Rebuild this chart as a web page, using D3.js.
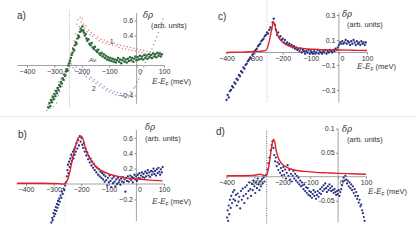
<!DOCTYPE html>
<html>
<head>
<meta charset="utf-8">
<script src="https://cdn.jsdelivr.net/npm/d3@7"></script>
<style>
  body { margin: 0; background: #fff; }
  svg { display: block; }
  text { font-family: "Liberation Sans", Arial, sans-serif; fill: #333; }
</style>
</head>
<body>
<svg width="415" height="248"></svg>
<script>
// ---- data (E - E_F in meV, delta rho in arb. units)

// panel a
const aAvg = [[-322,-0.56],[-318,-0.50],[-315,-0.54],[-312,-0.46],[-309,-0.49],[-306,-0.42],[-303,-0.45],[-300,-0.38],[-297,-0.41],[-294,-0.34],[-291,-0.37],[-288,-0.30],[-285,-0.33],[-282,-0.26],[-279,-0.28],[-276,-0.22],[-273,-0.24],[-270,-0.17],[-267,-0.19],[-264,-0.12],[-261,-0.14],[-258,-0.08],[-255,-0.05],[-252,-0.07],[-249,0.0],[-246,0.03],[-243,0.06],[-240,0.10],[-237,0.14],[-234,0.17],[-231,0.22],[-228,0.20],[-225,0.27],[-222,0.31],[-219,0.29],[-216,0.36],[-213,0.40],[-210,0.38],[-207,0.45],[-204,0.49],[-201,0.46],[-198,0.52],[-195,0.47],[-192,0.44],[-189,0.40],[-186,0.42],[-183,0.36],[-180,0.33],[-176,0.35],[-172,0.29],[-168,0.27],[-164,0.30],[-160,0.24],[-156,0.22],[-152,0.25],[-148,0.20],[-144,0.18],[-140,0.21],[-136,0.16],[-132,0.14],[-128,0.17],[-124,0.12],[-120,0.15],[-116,0.10],[-112,0.13],[-108,0.08],[-104,0.11],[-100,0.07],[-96,0.10],[-92,0.06],[-88,0.09],[-84,0.05],[-80,0.08],[-76,0.04],[-72,0.07],[-68,0.10],[-64,0.05],[-60,0.08],[-56,0.03],[-52,0.07],[-48,0.10],[-44,0.05],[-40,0.08],[-36,0.04],[-32,0.09],[-28,0.06],[-24,0.11],[-20,0.07],[-16,0.10],[-12,0.05],[-8,0.09],[-4,0.12],[0,0.07],[4,0.11],[8,0.08],[12,0.13],[16,0.09],[20,0.12],[24,0.08],[28,0.14],[32,0.10],[36,0.13],[40,0.09],[44,0.15],[48,0.11],[52,0.14],[56,0.10],[60,0.16],[64,0.12],[68,0.15],[72,0.11],[76,0.17],[80,0.13],[84,0.16],[88,0.12],[92,0.15]];
const aRun1 = [[-325,-0.55],[-316,-0.47],[-308,-0.40],[-300,-0.33],[-292,-0.30],[-284,-0.22],[-276,-0.18],[-268,-0.12],[-260,-0.05],[-252,0.0],[-246,0.08],[-240,0.16],[-234,0.24],[-228,0.33],[-222,0.42],[-218,0.55],[-214,0.61],[-210,0.52],[-206,0.64],[-202,0.58],[-198,0.62],[-194,0.55],[-190,0.50],[-185,0.53],[-180,0.45],[-175,0.47],[-170,0.41],[-165,0.44],[-160,0.39],[-154,0.41],[-148,0.36],[-142,0.38],[-136,0.33],[-130,0.35],[-124,0.31],[-118,0.34],[-112,0.30],[-106,0.32],[-100,0.28],[-94,0.31],[-88,0.27],[-82,0.30],[-76,0.26],[-70,0.28],[-64,0.24],[-58,0.27],[-52,0.23],[-46,0.26],[-40,0.22],[-34,0.25],[-28,0.21],[-22,0.24],[-16,0.20],[-10,0.23],[-4,0.19],[2,0.22],[8,0.18],[14,0.21],[20,0.17],[26,0.20],[32,0.16],[38,0.19],[44,0.15],[50,0.18],[56,0.14],[62,0.17],[68,0.13],[74,0.16],[80,0.15],[86,0.18],[92,0.14]];
const aRun2 = [[-328,-0.60],[-322,-0.52],[-316,-0.57],[-310,-0.48],[-304,-0.55],[-298,-0.45],[-292,-0.50],[-286,-0.40],[-280,-0.35],[-272,-0.28],[-264,-0.20],[-256,-0.12],[-250,-0.05],[-244,-0.02],[-238,0.02],[-232,-0.03],[-226,-0.06],[-220,-0.02],[-214,-0.08],[-208,-0.05],[-202,-0.10],[-196,-0.07],[-190,-0.12],[-184,-0.15],[-178,-0.12],[-172,-0.18],[-166,-0.16],[-160,-0.21],[-154,-0.19],[-148,-0.24],[-142,-0.22],[-136,-0.27],[-130,-0.25],[-124,-0.30],[-118,-0.28],[-112,-0.33],[-106,-0.31],[-100,-0.35],[-94,-0.33],[-88,-0.37],[-82,-0.35],[-76,-0.39],[-70,-0.36],[-64,-0.40],[-58,-0.37],[-52,-0.41],[-46,-0.38],[-40,-0.42],[-34,-0.39],[-28,-0.40],[-22,-0.35],[-16,-0.36],[-10,-0.30],[-4,-0.28],[2,-0.22],[8,-0.18],[14,-0.12],[20,-0.07],[26,-0.02],[32,0.04],[38,0.09],[44,0.12],[50,0.18],[56,0.22],[62,0.28],[68,0.33],[74,0.38],[80,0.44],[86,0.50],[92,0.57],[96,0.62]];

// panel b
const bData = [[-308,-0.50],[-305,-0.44],[-303,-0.47],[-300,-0.38],[-298,-0.42],[-296,-0.34],[-294,-0.39],[-292,-0.30],[-290,-0.35],[-288,-0.26],[-286,-0.31],[-284,-0.22],[-282,-0.27],[-280,-0.19],[-278,-0.23],[-275,-0.15],[-272,-0.18],[-270,-0.10],[-267,-0.13],[-264,-0.06],[-261,-0.08],[-258,-0.02],[-255,0.02],[-252,0.10],[-250,0.18],[-248,0.25],[-246,0.14],[-244,0.29],[-242,0.22],[-240,0.33],[-238,0.26],[-236,0.38],[-234,0.30],[-232,0.35],[-230,0.42],[-228,0.33],[-226,0.45],[-224,0.38],[-222,0.48],[-220,0.42],[-217,0.53],[-214,0.46],[-211,0.57],[-208,0.50],[-205,0.62],[-202,0.55],[-199,0.60],[-196,0.51],[-193,0.47],[-190,0.53],[-187,0.42],[-184,0.46],[-181,0.37],[-178,0.41],[-175,0.32],[-172,0.36],[-169,0.28],[-166,0.33],[-163,0.24],[-160,0.29],[-157,0.21],[-154,0.26],[-151,0.18],[-148,0.23],[-145,0.15],[-142,0.21],[-139,0.12],[-136,0.19],[-133,0.10],[-130,0.16],[-127,0.08],[-124,0.14],[-121,0.06],[-118,0.12],[-115,0.03],[-112,0.10],[-109,0.05],[-106,-0.02],[-103,0.08],[-100,0.02],[-97,0.11],[-94,0.04],[-91,-0.04],[-88,0.07],[-85,0.01],[-82,0.09],[-79,0.03],[-76,-0.03],[-73,0.06],[-70,0.0],[-67,0.08],[-64,0.02],[-61,0.05],[-58,-0.01],[-55,0.07],[-52,0.03],[-49,0.09],[-46,0.02],[-43,0.06],[-40,-0.10],[-37,0.08],[-34,0.04],[-31,0.10],[-28,0.03],[-25,0.07],[-22,0.11],[-19,0.05],[-16,0.09],[-13,0.02],[-10,0.08],[-7,0.12],[-4,0.06],[-1,0.10],[2,0.04],[5,0.12],[8,0.08],[11,0.14],[14,0.07],[17,0.11],[20,0.15],[23,0.09],[26,0.13],[29,0.08],[32,0.16],[35,0.10],[38,0.14],[41,0.18],[44,0.11],[47,0.15],[50,0.09],[53,0.17],[56,0.12],[59,0.16],[62,0.20],[65,0.13],[68,0.17],[71,0.11],[74,0.19],[77,0.14],[80,0.21],[83,0.16],[86,0.12],[89,0.19],[92,0.15],[95,0.22]];
const bFit = [[-432,0.01],[-350,0.01],[-280,0.005],[-262,0.0],[-250,0.05],[-240,0.18],[-230,0.35],[-220,0.5],[-210,0.6],[-200,0.62],[-192,0.57],[-185,0.47],[-175,0.38],[-165,0.31],[-150,0.24],[-130,0.18],[-100,0.13],[-70,0.1],[-40,0.08],[0,0.065],[50,0.05],[95,0.04]];

// panel c
const cData = [[-400,-0.38],[-396,-0.34],[-392,-0.36],[-388,-0.31],[-384,-0.30],[-380,-0.27],[-376,-0.28],[-372,-0.24],[-368,-0.25],[-364,-0.21],[-360,-0.22],[-356,-0.18],[-352,-0.19],[-348,-0.15],[-344,-0.16],[-340,-0.12],[-336,-0.13],[-332,-0.10],[-328,-0.09],[-324,-0.07],[-320,-0.06],[-316,-0.04],[-312,-0.05],[-308,-0.02],[-304,-0.01],[-300,0.01],[-296,0.02],[-292,0.03],[-288,0.05],[-284,0.06],[-280,0.07],[-276,0.09],[-272,0.10],[-268,0.11],[-264,0.13],[-260,0.14],[-256,0.16],[-252,0.15],[-248,0.18],[-244,0.20],[-240,0.19],[-236,0.24],[-232,0.27],[-228,0.22],[-224,0.18],[-220,0.14],[-216,0.16],[-212,0.12],[-208,0.13],[-204,0.10],[-200,0.11],[-196,0.08],[-192,0.10],[-188,0.07],[-184,0.08],[-180,0.06],[-176,0.07],[-172,0.05],[-168,0.06],[-164,0.04],[-160,0.05],[-156,0.03],[-152,0.04],[-148,0.02],[-144,0.03],[-140,0.01],[-136,0.03],[-132,0.0],[-128,0.02],[-124,0.01],[-120,-0.01],[-116,0.01],[-112,0.0],[-108,0.02],[-104,-0.01],[-100,0.01],[-96,0.0],[-92,-0.01],[-88,0.01],[-84,-0.01],[-80,0.0],[-76,0.02],[-72,-0.01],[-68,0.01],[-64,0.0],[-60,-0.01],[-56,0.01],[-52,0.0],[-48,0.02],[-44,-0.01],[-40,0.01],[-36,0.0],[-32,0.02],[-28,0.01],[-24,0.0],[-20,0.02],[-16,0.01],[-12,0.03],[-8,0.02],[-4,0.04],[0,0.06],[4,0.08],[8,0.07],[12,0.09],[16,0.07],[20,0.08],[24,0.10],[28,0.07],[32,0.09],[36,0.08],[40,0.06],[44,0.09],[48,0.07],[52,0.10],[56,0.08],[60,0.06],[64,0.09],[68,0.07],[72,0.08],[76,0.06],[80,0.09],[84,0.07],[88,0.08],[92,0.06],[96,0.08]];
const cFit = [[-400,0.0],[-350,0.003],[-300,0.008],[-270,0.012],[-262,0.015],[-256,0.03],[-250,0.07],[-244,0.13],[-238,0.20],[-233,0.245],[-229,0.23],[-225,0.19],[-220,0.15],[-214,0.12],[-206,0.095],[-196,0.075],[-185,0.06],[-170,0.048],[-150,0.038],[-120,0.03],[-80,0.025],[-40,0.022],[0,0.02],[50,0.018],[100,0.016]];

// panel d
const dData = [[-398,-0.085],[-396,-0.070],[-394,-0.092],[-392,-0.060],[-390,-0.078],[-388,-0.048],[-385,-0.065],[-383,-0.040],[-380,-0.055],[-377,-0.032],[-375,-0.047],[-372,-0.028],[-369,-0.050],[-366,-0.038],[-363,-0.060],[-360,-0.035],[-357,-0.052],[-354,-0.042],[-351,-0.066],[-348,-0.030],[-345,-0.048],[-342,-0.025],[-339,-0.040],[-336,-0.055],[-333,-0.022],[-330,-0.036],[-327,-0.018],[-324,-0.045],[-321,-0.030],[-318,-0.012],[-315,-0.026],[-312,-0.040],[-309,-0.015],[-306,-0.028],[-303,-0.008],[-300,-0.020],[-297,-0.034],[-294,-0.012],[-291,-0.024],[-288,-0.004],[-285,-0.016],[-282,-0.028],[-279,-0.010],[-276,-0.020],[-273,-0.005],[-270,-0.014],[-267,-0.002],[-264,-0.010],[-258,0.004],[-254,0.015],[-250,0.028],[-246,0.040],[-242,0.055],[-238,0.066],[-235,0.074],[-232,0.060],[-229,0.045],[-226,0.032],[-223,0.040],[-220,0.022],[-217,0.030],[-214,0.014],[-211,0.026],[-208,0.008],[-205,0.018],[-202,0.003],[-199,0.012],[-196,0.020],[-193,0.004],[-190,0.015],[-187,-0.004],[-184,0.008],[-181,0.024],[-178,0.002],[-175,0.014],[-172,-0.006],[-169,0.006],[-166,-0.010],[-163,0.002],[-160,0.012],[-157,-0.004],[-154,0.006],[-151,-0.008],[-148,0.002],[-145,-0.012],[-142,-0.002],[-139,-0.016],[-136,-0.008],[-133,-0.020],[-130,-0.012],[-127,-0.018],[-124,-0.026],[-121,-0.016],[-118,-0.030],[-115,-0.022],[-112,-0.034],[-109,-0.024],[-106,-0.038],[-103,-0.030],[-100,-0.040],[-97,-0.032],[-94,-0.044],[-91,-0.036],[-88,-0.028],[-85,-0.040],[-82,-0.032],[-79,-0.046],[-76,-0.038],[-73,-0.030],[-70,-0.042],[-67,-0.034],[-64,-0.026],[-61,-0.036],[-58,-0.022],[-55,-0.030],[-52,-0.018],[-49,-0.026],[-46,-0.014],[-43,-0.024],[-40,-0.032],[-37,-0.020],[-34,-0.028],[-31,-0.016],[-28,-0.024],[-25,-0.030],[-22,-0.020],[-19,-0.028],[-16,-0.034],[-13,-0.026],[-10,-0.032],[-7,-0.038],[-4,-0.030],[-1,-0.036],[2,-0.028],[5,-0.040],[8,-0.032],[11,-0.026],[14,-0.018],[17,-0.010],[20,-0.002],[23,-0.008],[26,0.002],[29,-0.006],[32,-0.014],[35,-0.008],[38,-0.020],[41,-0.012],[44,-0.024],[47,-0.016],[50,-0.028],[53,-0.020],[56,-0.034],[59,-0.026],[62,-0.040],[65,-0.032],[68,-0.046],[71,-0.040],[74,-0.054],[77,-0.048],[80,-0.062],[83,-0.058],[86,-0.070],[89,-0.076],[92,-0.084],[95,-0.092]];
const dFit = [[-400,0.002],[-350,0.002],[-300,0.003],[-280,0.005],[-268,0.003],[-258,0.002],[-252,0.01],[-246,0.03],[-240,0.055],[-235,0.072],[-231,0.078],[-227,0.072],[-222,0.055],[-216,0.042],[-208,0.032],[-198,0.025],[-185,0.02],[-170,0.016],[-150,0.013],[-120,0.011],[-80,0.009],[-40,0.008],[0,0.007],[50,0.006],[100,0.005]];

// ticks
const xTicks  = [-400, -300, -200, -100, 0, 100];
const aYTicks = [0.6, 0.4, -0.4];
const bYTicks = [0.6, 0.4, 0.2, -0.2];
const cYTicks = [0.3, 0.1, -0.1, -0.3];
const dYTicks = [0.1, 0.05, -0.05];

const blue = '#27307e';
const red  = '#e0222a';

// ---- layout of the 4 panels (pixel boxes)
const panels = [
  { id:'a', xr:[27,164],    yd:[-0.6,0.7],    yr:[110.5,13],  xLine:[-435,100], yLine:[-0.51,0.7],
    yTicks:aYTicks, fmt:d3.format('.1f'), dash:{e:-245, y:[10,108], c:'#b5b5b5'},
    lab:[17,19], dr:[143,18], arb:[151,28], ef:[152,84] },
  { id:'b', xr:[26,164],    yd:[-0.5,0.7],    yr:[222.5,130.1], xLine:[-435,100], yLine:[-0.48,0.7],
    yTicks:bYTicks, fmt:d3.format('.1f'), dash:{e:-258, y:[184,222], c:'#dcdcdc'},
    lab:[18,138], dr:[145,130], arb:[145,141], ef:[152,204] },
  { id:'c', xr:[226.5,367], yd:[-0.4,0.32],   yr:[102.5,12.5], xLine:[-402,100], yLine:[-0.4,0.32],
    yTicks:cYTicks, fmt:d3.format('.1f'), dash:{e:-256, y:[0,103], c:'#c4c4c4'},
    lab:[218,20], dr:[342,17], arb:[347,27], ef:[357,69] },
  { id:'d', xr:[226.5,366], yd:[-0.095,0.1],  yr:[222.3,128.7], xLine:[-402,100], yLine:[-0.095,0.1],
    yTicks:dYTicks, fmt:d => String(d), dash:{e:-256, y:[131,224], c:'#555'},
    lab:[216,135], dr:[342,132], arb:[347,142], ef:[368,194] },
];

const svg = d3.select('svg');

// separator between rows
svg.append('line').attr('x1',0).attr('x2',415).attr('y1',116.5).attr('y2',116.5)
   .attr('stroke','#dedede').attr('stroke-width',0.8);

panels.forEach(p => {
  const x = d3.scaleLinear().domain([-400,100]).range(p.xr);
  const y = d3.scaleLinear().domain(p.yd).range(p.yr);
  p.x = x; p.y = y;
  const g = svg.append('g').attr('class','panel-' + p.id);

  // dotted guide line
  g.append('line')
    .attr('x1', x(p.dash.e)).attr('x2', x(p.dash.e))
    .attr('y1', p.dash.y[0]).attr('y2', p.dash.y[1])
    .attr('stroke', p.dash.c).attr('stroke-width', 0.8).attr('stroke-dasharray','1.2,1.2');

  // x axis
  g.append('line')
    .attr('x1', x(p.xLine[0])).attr('x2', x(p.xLine[1]))
    .attr('y1', y(0)).attr('y2', y(0)).attr('stroke','#8a8a8a').attr('stroke-width',0.8);
  const xa = g.append('g').attr('transform', `translate(0,${y(0)})`)
    .call(d3.axisBottom(x).tickValues(xTicks).tickSize(2).tickPadding(1.5).tickFormat(d3.format('d')));
  xa.select('.domain').remove();
  xa.selectAll('line').attr('stroke','#8a8a8a');
  xa.selectAll('text').style('font-size','7px').attr('fill','#3a3a3a')
    .attr('dx', d => d === 0 ? 3 : 0);

  // y axis
  g.append('line')
    .attr('x1', x(0)).attr('x2', x(0))
    .attr('y1', y(p.yLine[0])).attr('y2', y(p.yLine[1])).attr('stroke','#8a8a8a').attr('stroke-width',0.8);
  const ya = g.append('g').attr('transform', `translate(${x(0)},0)`)
    .call(d3.axisLeft(y).tickValues(p.yTicks).tickSize(2).tickPadding(1.5).tickFormat(p.fmt));
  ya.select('.domain').remove();
  ya.selectAll('line').attr('stroke','#8a8a8a');
  ya.selectAll('text').style('font-size','7px').attr('fill','#3a3a3a');

  // labels
  g.append('text').attr('x', p.lab[0]).attr('y', p.lab[1]).text(p.id + ')')
    .style('font-size','10px').attr('fill','#222');
  g.append('text').attr('x', p.dr[0]).attr('y', p.dr[1]).text('δρ')
    .style('font-family','"DejaVu Serif", serif').style('font-style','italic').style('font-size','8.5px');
  g.append('text').attr('x', p.arb[0]).attr('y', p.arb[1]).text('(arb. units)')
    .style('font-size','7.5px');
  const ef = g.append('text').attr('x', p.ef[0]).attr('y', p.ef[1]).style('font-size','7.5px');
  ef.append('tspan').text('E').style('font-family','"DejaVu Serif", serif').style('font-style','italic');
  ef.append('tspan').text('-');
  ef.append('tspan').text('E').style('font-family','"DejaVu Serif", serif').style('font-style','italic');
  ef.append('tspan').text('F').attr('dy', 1.5).style('font-size','5px');
  ef.append('tspan').text(' (meV)').attr('dy', -1.5);
});

function dots(p, data, r, color, op) {
  svg.append('g').selectAll('circle').data(data).join('circle')
    .attr('cx', d => p.x(d[0])).attr('cy', d => p.y(d[1]))
    .attr('r', r).attr('fill', color).attr('fill-opacity', op);
}
function fit(p, data) {
  const line = d3.line().x(d => p.x(d[0])).y(d => p.y(d[1])).curve(d3.curveCatmullRom);
  svg.append('path').datum(data).attr('d', line)
    .attr('fill','none').attr('stroke', red).attr('stroke-width', 1.4);
}

const [pa, pb, pc, pd] = panels;

// panel a: two runs and their average
dots(pa, aRun1, 0.75, '#d9706e', 0.9);
dots(pa, aRun2, 0.75, '#7f8cc0', 0.9);
dots(pa, aAvg, 1.3, '#2c6a3b', 1);
svg.append('text').attr('x', 110).attr('y', 44).text('1').style('font-size','6.5px').attr('fill','#222');
svg.append('text').attr('x', 89).attr('y', 62).text('Av.').style('font-size','6px')
   .style('font-style','italic').attr('fill','#222');
svg.append('text').attr('x', 92).attr('y', 91).text('2').style('font-size','6.5px').attr('fill','#222');

// panels b-d: data and fit
dots(pb, bData, 1.15, blue, 1); fit(pb, bFit);
dots(pc, cData, 1.15, blue, 1); fit(pc, cFit);
dots(pd, dData, 1.1, blue, 1);  fit(pd, dFit);
</script>
</body>
</html>
